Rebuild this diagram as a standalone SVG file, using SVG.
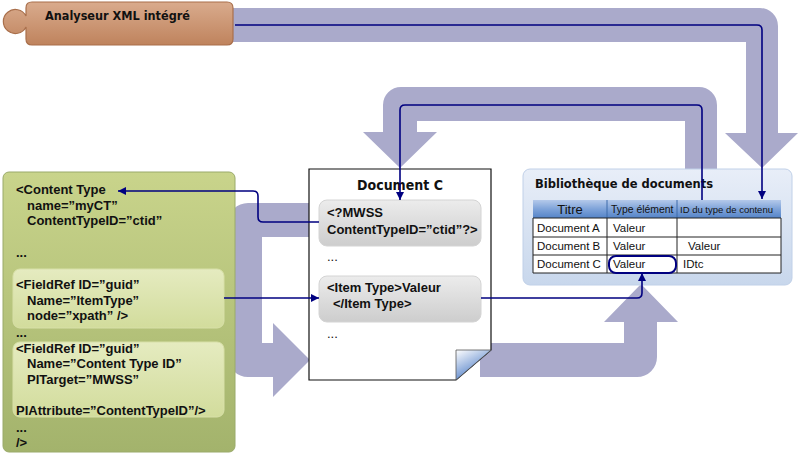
<svg xmlns="http://www.w3.org/2000/svg" width="799" height="454" viewBox="0 0 799 454">
<defs>
  <linearGradient id="gBrown" x1="0" y1="0" x2="0" y2="1">
    <stop offset="0" stop-color="#d9ab8d"/>
    <stop offset="1" stop-color="#bf835d"/>
  </linearGradient>
  <linearGradient id="gGreen" x1="0" y1="0" x2="0" y2="1">
    <stop offset="0" stop-color="#c9d48b"/>
    <stop offset="1" stop-color="#a3b36c"/>
  </linearGradient>
  <linearGradient id="gGreenIn" x1="0" y1="0" x2="0" y2="1">
    <stop offset="0" stop-color="#e5ebc0"/>
    <stop offset="1" stop-color="#d2dc9c"/>
  </linearGradient>
  <linearGradient id="gGray" x1="0" y1="0" x2="0" y2="1">
    <stop offset="0" stop-color="#ececec"/>
    <stop offset="1" stop-color="#cdcdcd"/>
  </linearGradient>
  <linearGradient id="gLib" x1="0" y1="0" x2="0" y2="1">
    <stop offset="0" stop-color="#e8eef8"/>
    <stop offset="1" stop-color="#c8d7ec"/>
  </linearGradient>
  <linearGradient id="gHead" x1="0" y1="0" x2="0" y2="1">
    <stop offset="0" stop-color="#b4c9ea"/>
    <stop offset="0.5" stop-color="#7ea3d9"/>
    <stop offset="1" stop-color="#5584c8"/>
  </linearGradient>
  <linearGradient id="gFold" x1="0" y1="0" x2="0.6" y2="1">
    <stop offset="0" stop-color="#ffffff"/>
    <stop offset="1" stop-color="#3f72c2"/>
  </linearGradient>
  <marker id="ah" viewBox="0 0 10 10" refX="10" refY="5" markerWidth="8" markerHeight="8" markerUnits="userSpaceOnUse" orient="auto">
    <path d="M0 0 L10 5 L0 10 Z" fill="#000080"/>
  </marker>
</defs>
<style>
  .band { fill: #aaaacb; }
  .con { fill: none; stroke: #000080; stroke-width: 1.6; marker-end: url(#ah); }
  .code { font-family: "Liberation Sans", Arial, sans-serif; font-weight: bold; font-size: 13px; fill: #111; }
  .dots { font-family: "Liberation Sans", Arial, sans-serif; font-size: 13px; fill: #111; }
  .title { font-family: "DejaVu Sans Condensed", "DejaVu Sans", sans-serif; font-weight: bold; fill: #111; }
  .cell { font-family: "Liberation Sans", Arial, sans-serif; font-size: 11.5px; fill: #111; }
  .hd { font-family: "Liberation Sans", Arial, sans-serif; fill: #111; }
  .grid { fill: none; stroke: #222; stroke-width: 1; }
</style>

<g id="bands">
  <path class="band" d="M232 8 H760 A18 18 0 0 1 778 26 V133 H798 L762 168 L725 133 H746 V42 H232 Z"/>
  <path class="band" d="M685 172 V121 H417 V132 H437 L400 168 L363 132 H383 V105 A18 18 0 0 1 401 87 H699 A18 18 0 0 1 717 105 V172 Z"/>
  <path class="band" d="M320 203 H248 A20 20 0 0 0 228 223 V357 A20 20 0 0 0 248 377 H273 V397 L310 360 L273 323 V343 H262 V237 H320 Z"/>
  <path class="band" d="M480 343 H624 V322 H604 L641 284 L678 322 H657 V357 A20 20 0 0 1 637 377 H480 Z"/>
</g>

<g id="analyseur">
  <path d="M32 2 H227 Q233 2 233 8 V39 Q233 45 227 45 H32 Q26 45 26 39 V27 A12 12 0 1 1 26 16 V8 Q26 2 32 2 Z" fill="url(#gBrown)" stroke="#a96f4b" stroke-width="1.2"/>
  <text class="title" x="45" y="20" font-size="13" textLength="145" lengthAdjust="spacingAndGlyphs">Analyseur XML intégré</text>
</g>

<g id="content-type">
  <rect x="3" y="172" width="232" height="280" rx="6" fill="url(#gGreen)" stroke="#9aaa6a" stroke-width="1"/>
  <text class="code" x="16" y="194">&lt;Content Type</text>
  <text class="code" x="27" y="210">name=”myCT”</text>
  <text class="code" x="27" y="225">ContentTypeID=”ctid”</text>
  <text class="code" x="16" y="257">...</text>
  <rect x="13" y="269" width="211" height="59" rx="7" fill="url(#gGreenIn)" stroke="#d8e0a8" stroke-width="1"/>
  <text class="code" x="16" y="289">&lt;FieldRef ID=”guid”</text>
  <text class="code" x="27" y="305">Name=”ItemType”</text>
  <text class="code" x="27" y="320">node=”xpath” /&gt;</text>
  <text class="code" x="16" y="337">...</text>
  <rect x="13" y="342" width="211" height="75" rx="7" fill="url(#gGreenIn)" stroke="#d8e0a8" stroke-width="1"/>
  <text class="code" x="16" y="353">&lt;FieldRef ID=”guid”</text>
  <text class="code" x="27" y="368">Name=”Content Type ID”</text>
  <text class="code" x="27" y="384">PITarget=”MWSS”</text>
  <text class="code" x="16" y="415">PIAttribute=”ContentTypeID”/&gt;</text>
  <text class="code" x="16" y="432">...</text>
  <text class="code" x="16" y="447">/&gt;</text>
</g>

<g id="document-c">
  <path d="M309 169 H491 V350 L456 380 H309 Z" fill="#ffffff" stroke="#111" stroke-width="1.2"/>
  <path d="M456 350 H491 L456 380 Z" fill="url(#gFold)" stroke="#555" stroke-width="0.8"/>
  <text class="title" x="400" y="190" font-size="14" text-anchor="middle" textLength="86" lengthAdjust="spacingAndGlyphs">Document C</text>
  <rect x="319" y="200" width="162" height="46" rx="8" fill="url(#gGray)" stroke="#d4d4d4" stroke-width="1"/>
  <text class="code" x="327" y="217">&lt;?MWSS</text>
  <text class="code" x="327" y="234">ContentTypeID=”ctid”?&gt;</text>
  <text class="dots" x="327" y="261">...</text>
  <rect x="319" y="276" width="162" height="46" rx="8" fill="url(#gGray)" stroke="#d4d4d4" stroke-width="1"/>
  <text class="code" x="327" y="292">&lt;Item Type&gt;Valeur</text>
  <text class="code" x="333" y="308">&lt;/Item Type&gt;</text>
  <text class="dots" x="327" y="338">...</text>
</g>

<g id="bibliotheque">
  <rect x="523" y="169" width="269" height="116" rx="7" fill="url(#gLib)" stroke="#c0d0e8" stroke-width="1"/>
  <text class="title" x="535" y="188" font-size="12" textLength="178" lengthAdjust="spacingAndGlyphs">Bibliothèque de documents</text>
  <rect x="533" y="200" width="248" height="18" fill="url(#gHead)"/>
  <line x1="607" y1="200" x2="607" y2="218" stroke="#3d6aaa" stroke-width="1"/>
  <line x1="677" y1="200" x2="677" y2="218" stroke="#3d6aaa" stroke-width="1"/>
  <rect x="533" y="218" width="248" height="55" fill="#ffffff"/>
  <path class="grid" d="M533 218 H781 V273 H533 Z M533 237 H781 M533 255 H781 M607 218 V273 M677 218 V273"/>
  <text class="hd" x="570" y="214" font-size="13" text-anchor="middle">Titre</text>
  <text class="hd" x="611" y="213" font-size="10.4">Type élément</text>
  <text class="hd" x="680" y="213" font-size="9.5">ID du type de contenu</text>
  <text class="cell" x="537" y="232">Document A</text>
  <text class="cell" x="613" y="232">Valeur</text>
  <text class="cell" x="537" y="250">Document B</text>
  <text class="cell" x="613" y="250">Valeur</text>
  <text class="cell" x="688" y="250">Valeur</text>
  <text class="cell" x="537" y="268">Document C</text>
  <text class="cell" x="613" y="268">Valeur</text>
  <text class="cell" x="683" y="268">IDtc</text>
  <rect x="609" y="256" width="67" height="17" rx="7" fill="none" stroke="#000080" stroke-width="2"/>
</g>

<g id="connectors">
  <path class="con" d="M235 25 H757 Q762 25 762 30 V199"/>
  <path class="con" d="M702 200 V110 Q702 105 697 105 H405 Q400 105 400 110 V200"/>
  <path class="con" d="M319 222 H263 Q258 222 258 217 V196 Q258 191 253 191 H118"/>
  <path class="con" d="M224 298 H319"/>
  <path class="con" d="M481 298 H637 Q642 298 642 293 V273"/>
</g>
</svg>
